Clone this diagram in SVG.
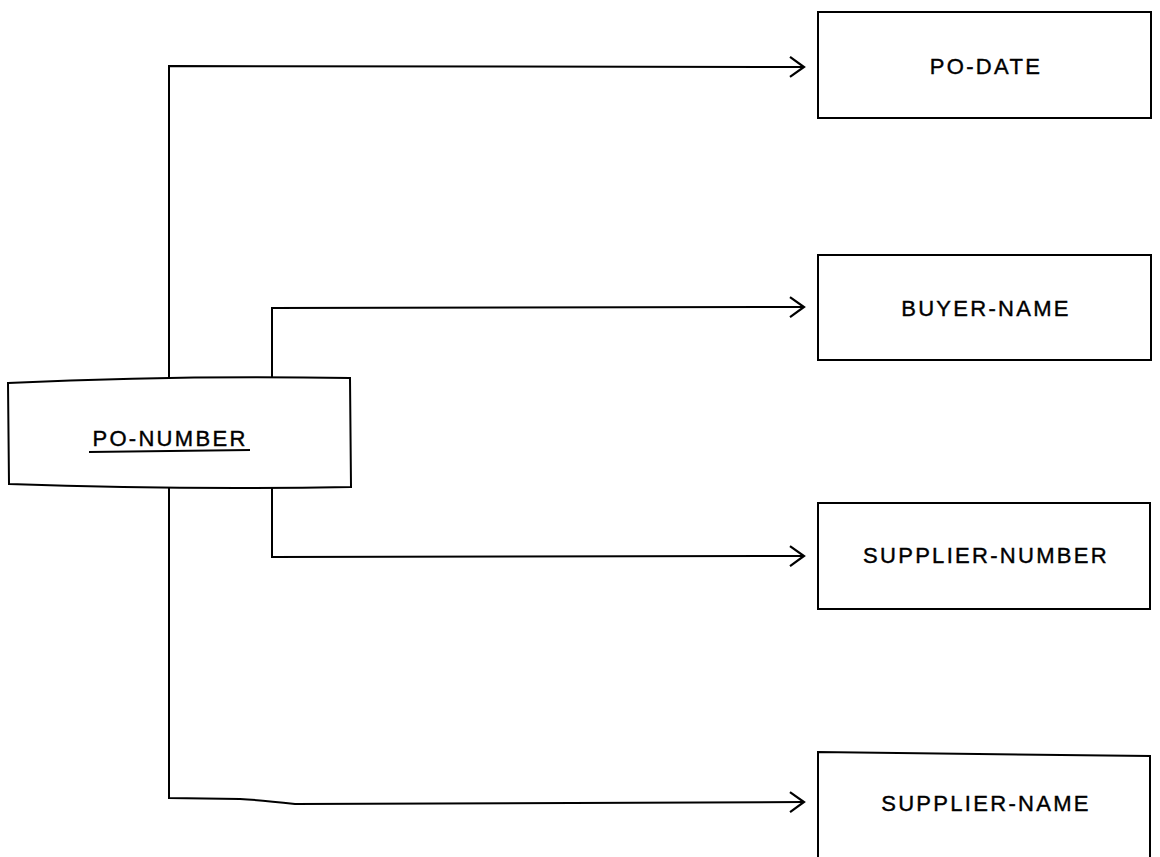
<svg xmlns="http://www.w3.org/2000/svg" width="1160" height="857" viewBox="0 0 1160 857">
<style>
.box{fill:#fff;stroke:#000;stroke-width:2}
.ln{fill:none;stroke:#000;stroke-width:2}
.t{font-family:"Liberation Sans",Arial,sans-serif;font-size:22px;letter-spacing:2.3px;fill:#000;stroke:#000;stroke-width:0.4;text-anchor:middle}
</style>
<defs>
<marker id="arr" markerWidth="20" markerHeight="24" refX="16" refY="12" orient="auto" markerUnits="userSpaceOnUse">
<path d="M2,2 L16,12 L2,22" fill="none" stroke="#000" stroke-width="2.2"/>
</marker>
</defs>
<rect width="1160" height="857" fill="#fff"/>
<g id="connectors">
<path class="ln" d="M169,381 L169,66 L804,67" marker-end="url(#arr)"/>
<path class="ln" d="M272,381 L272,308 L804,307" marker-end="url(#arr)"/>
<path class="ln" d="M272,488 L272,557 L804,556" marker-end="url(#arr)"/>
<path class="ln" d="M169,488 L169,798 L240,799 Q260,800 295,804 L804,802" marker-end="url(#arr)"/>
</g>
<g id="po-number">
<path class="box" d="M8,383 Q180,375 350,378 L351,487 Q180,490 9,484 Z"/>
<text class="t" x="170" y="446">PO-NUMBER</text>
<line class="ln" x1="89" y1="452" x2="250" y2="450" stroke-width="2.5"/>
</g>
<g id="po-date">
<rect class="box" x="818" y="12" width="333" height="106"/>
<text class="t" x="986" y="74">PO-DATE</text>
</g>
<g id="buyer-name">
<rect class="box" x="818" y="255" width="333" height="105"/>
<text class="t" x="986" y="316">BUYER-NAME</text>
</g>
<g id="supplier-number">
<rect class="box" x="818" y="503" width="332" height="106"/>
<text class="t" x="986" y="563">SUPPLIER-NUMBER</text>
</g>
<g id="supplier-name">
<path class="box" d="M818,870 L818,752 L1150,756 L1150,870"/>
<text class="t" x="986" y="811">SUPPLIER-NAME</text>
</g>
</svg>
